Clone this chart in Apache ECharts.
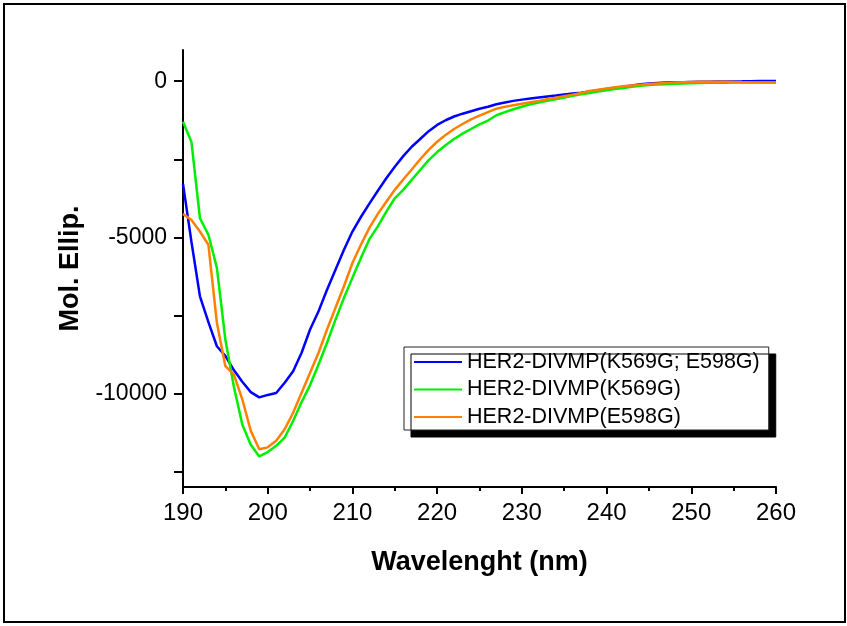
<!DOCTYPE html>
<html lang="en">
<head>
  <meta charset="UTF-8">
  <title>CD spectra</title>
  <style>
    html,body{margin:0;padding:0;background:#fff;}
    #main{width:847px;height:626px;}
  </style>
</head>
<body>
  <div id="main"></div>
  <script src="https://cdn.jsdelivr.net/npm/echarts@6/dist/echarts.min.js"></script>
  <script>
    // wavelength 190..260 nm, 1 nm step
    const wavelengths=[];
    for(let w=190;w<=260;w++) wavelengths.push(w);

    const seriesNames=['HER2-DIVMP(K569G; E598G)','HER2-DIVMP(K569G)','HER2-DIVMP(E598G)'];

    const doubleMut=[-3290,-5150,-6890,-7720,-8490,-8800,-9255,-9630,-9960,-10130,
      -10050,-9990,-9660,-9290,-8700,-7955,-7370,-6680,-6040,-5400,
      -4815,-4350,-3920,-3510,-3110,-2740,-2400,-2100,-1850,-1600,
      -1400,-1250,-1130,-1040,-960,-880,-820,-740,-680,-630,
      -590,-555,-520,-490,-460,-425,-395,-370,-330,-290,
      -250,-210,-175,-140,-100,-70,-55,-45,-35,-30,
      -25,-20,-15,-12,-10,-8,-5,0,5,8,10];

    const k569g=[-1300,-1950,-4390,-4920,-5980,-8275,-9780,-11000,-11650,-12020,
      -11880,-11680,-11420,-10885,-10280,-9735,-9075,-8380,-7640,-6940,
      -6300,-5665,-5060,-4650,-4180,-3750,-3480,-3160,-2845,-2530,
      -2270,-2050,-1850,-1680,-1530,-1380,-1260,-1090,-990,-900,
      -820,-740,-680,-630,-575,-520,-470,-420,-375,-330,
      -290,-250,-215,-180,-145,-120,-105,-95,-85,-75,
      -65,-55,-50,-48,-46,-45,-44,-44,-43,-43,-43];

    const e598g=[-4250,-4450,-4815,-5240,-7740,-9130,-9390,-10190,-11200,-11790,
      -11730,-11520,-11150,-10620,-9980,-9340,-8700,-7955,-7260,-6570,
      -5825,-5240,-4700,-4250,-3860,-3480,-3150,-2830,-2500,-2200,
      -1940,-1720,-1530,-1370,-1220,-1100,-990,-880,-820,-770,
      -720,-675,-630,-580,-530,-480,-430,-380,-310,-270,
      -230,-195,-165,-135,-110,-90,-75,-60,-45,-35,
      -25,-20,-15,-15,-20,-25,-30,-35,-38,-40,-43];

    const colors=['#0000ff','#00ee00','#ff8000'];
    const yTicks=[-12500,-10000,-7500,-5000,-2500,0];
    const yLabels=[-10000,-5000,0];

    const font='Arial, "Liberation Sans", sans-serif';
    const chart=echarts.init(document.getElementById('main'));

    const pairs=arr=>wavelengths.map((w,i)=>[w,arr[i]]);

    const option={
      backgroundColor:'#fff',
      animation:false,
      graphic:[{
        type:'rect',
        shape:{x:4,y:4,width:841,height:618},
        style:{fill:'none',stroke:'#000',lineWidth:2},
        silent:true
      }],
      grid:{left:183,right:71,top:50,bottom:139},
      legend:{
        orient:'vertical',
        left:404,
        top:347,
        padding:[4,9,2,10],
        itemGap:5.5,
        itemWidth:48,
        itemHeight:2,
        icon:'rect',
        backgroundColor:'#fff',
        borderColor:'#222',
        borderWidth:1,
        shadowColor:'#000',
        shadowBlur:0,
        shadowOffsetX:7,
        shadowOffsetY:7,
        textStyle:{fontFamily:font,fontSize:21.5,color:'#000'},
        data:seriesNames
      },
      xAxis:{
        type:'value',
        min:190,max:260,interval:10,
        name:'Wavelenght (nm)',
        nameLocation:'middle',
        nameGap:62,
        nameTextStyle:{fontFamily:font,fontSize:27,fontWeight:'bold',color:'#000'},
        axisLine:{onZero:false,lineStyle:{color:'#000',width:2}},
        axisTick:{length:7,lineStyle:{color:'#000',width:2}},
        minorTick:{show:true,splitNumber:2,length:4,lineStyle:{color:'#000',width:2}},
        axisLabel:{fontFamily:font,fontSize:24,color:'#000',margin:14},
        splitLine:{show:false}
      },
      yAxis:{
        type:'value',
        min:-13000,max:1000,
        name:'Mol. Ellip.',
        nameLocation:'middle',
        nameGap:98,
        nameTextStyle:{fontFamily:font,fontSize:27,fontWeight:'bold',color:'#000'},
        axisLine:{show:true,onZero:false,lineStyle:{color:'#000',width:2}},
        axisTick:{show:true,length:9,customValues:yTicks,lineStyle:{color:'#000',width:2}},
        axisLabel:{fontFamily:font,fontSize:23,color:'#000',margin:16,
          customValues:yLabels,formatter:v=>String(v)},
        splitLine:{show:false}
      },
      series:[
        {name:seriesNames[0],type:'line',data:pairs(doubleMut),showSymbol:false,
          lineStyle:{color:colors[0],width:2.5},itemStyle:{color:colors[0]}},
        {name:seriesNames[1],type:'line',data:pairs(k569g),showSymbol:false,
          lineStyle:{color:colors[1],width:2.5},itemStyle:{color:colors[1]}},
        {name:seriesNames[2],type:'line',data:pairs(e598g),showSymbol:false,
          lineStyle:{color:colors[2],width:2.5},itemStyle:{color:colors[2]}}
      ]
    };
    chart.setOption(option);
  </script>
</body>
</html>
